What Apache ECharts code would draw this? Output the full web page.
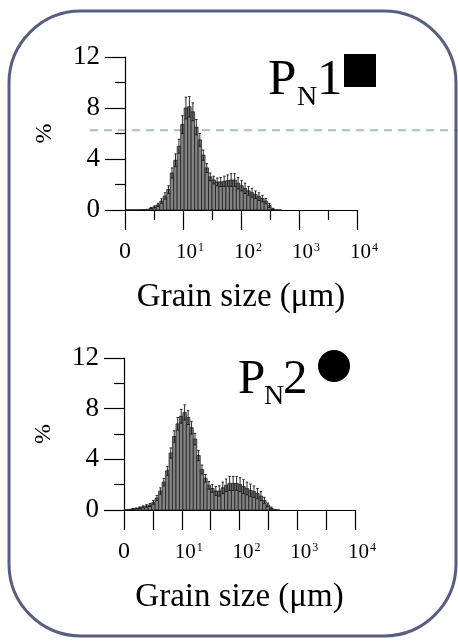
<!DOCTYPE html>
<html>
<head>
<meta charset="utf-8">
<script src="https://cdn.jsdelivr.net/npm/echarts@6/dist/echarts.min.js"></script>
<style>
html,body{margin:0;padding:0;background:#fff;}
#c{width:458px;height:641px;}
</style>
</head>
<body>
<div id="c"></div>
<script>
// ---- data (log10 of grain size in µm, bin centres) ----
const binLog = [0.03,0.09,0.15,0.21,0.27,0.33,0.39,0.45,0.51,0.57,0.63,0.69,0.75,0.81,0.87,0.93,0.99,1.05,1.11,1.17,1.23,1.29,1.35,1.41,1.47,1.53,1.59,1.65,1.71,1.77,1.83,1.89,1.95,2.01,2.07,2.13,2.19,2.25,2.31,2.37,2.43,2.49,2.55,2.61,2.67];
const binWidthLog = 0.06;
const pn1Mean = [0.02,0.02,0.02,0.02,0.03,0.04,0.06,0.15,0.25,0.4,0.7,1.1,1.6,2.9,3.9,5.0,6.7,8.0,8.1,7.7,6.5,5.5,4.3,3.3,2.6,2.35,2.2,2.2,2.25,2.3,2.35,2.35,2.1,1.9,1.7,1.5,1.35,1.2,1.05,0.9,0.7,0.35,0.08,0.02,0.01];
const pn1Sd   = [0,0,0,0,0,0.01,0.02,0.05,0.08,0.12,0.18,0.25,0.3,0.4,0.5,0.55,0.7,0.85,0.8,0.7,0.6,0.5,0.4,0.35,0.3,0.3,0.3,0.35,0.4,0.45,0.5,0.5,0.45,0.4,0.4,0.35,0.35,0.3,0.3,0.25,0.2,0.15,0.05,0,0];
const pn2Mean = [0.03,0.05,0.08,0.12,0.18,0.25,0.32,0.4,0.6,0.95,1.5,2.2,3.1,4.5,5.8,6.8,7.4,7.7,7.3,6.5,5.6,4.3,3.2,2.5,1.95,1.7,1.5,1.5,1.75,1.95,2.1,2.1,2.1,2.0,1.85,1.7,1.55,1.45,1.3,1.1,0.75,0.4,0.15,0.05,0.01];
const pn2Sd   = [0.01,0.02,0.03,0.04,0.06,0.08,0.1,0.12,0.15,0.2,0.25,0.3,0.35,0.4,0.45,0.5,0.55,0.6,0.55,0.5,0.45,0.4,0.35,0.3,0.3,0.3,0.35,0.4,0.45,0.5,0.55,0.55,0.55,0.55,0.55,0.5,0.5,0.45,0.4,0.35,0.25,0.15,0.08,0.02,0];
const xTickBase = ['0','10','10','10','10'];
const xTickSup  = ['','1','2','3','4'];
const yTicks = [0,4,8,12];
const refLineValue = 6.25;
const panelNames = ['1','2'];

const FONT = 'Liberation Serif';
const chart = echarts.init(document.getElementById('c'), null, {renderer:'canvas'});

function xLabel(v){
  if (Math.abs(v - Math.round(v)) > 1e-6) return '';
  const i = Math.round(v);
  if (xTickSup[i] === '') return '{z|' + xTickBase[i] + '}';
  return '{b|' + xTickBase[i] + '}{s|' + xTickSup[i] + '}';
}
const xRich = {
  z:{fontSize:24, fontFamily:FONT, color:'#000', lineHeight:24},
  b:{fontSize:21, fontFamily:FONT, color:'#000', lineHeight:24, padding:[0,0,0,14]},
  s:{fontSize:12, fontFamily:FONT, color:'#000', lineHeight:24, verticalAlign:'top', padding:[2,0,0,1]}
};
function makeX(idx, halfLong){
  return {
    gridIndex: idx, type:'value', min:0, max:4, interval: halfLong ? 0.5 : 1,
    axisLine:{show:true, onZero:false, lineStyle:{color:'#000', width:1.2}},
    axisTick:{show:true, length:20, lineStyle:{color:'#000', width:1.2}},
    minorTick:{show:!halfLong, splitNumber:2, length:10, lineStyle:{color:'#000', width:1.2}},
    splitLine:{show:false},
    axisLabel:{margin:30, formatter:xLabel, rich:xRich},
    name:'Grain size (\u03bcm)', nameLocation:'middle', nameGap:71,
    nameTextStyle:{fontFamily:FONT, fontSize:33, color:'#000'}
  };
}
function makeY(idx){
  return {
    gridIndex: idx, type:'value', min:yTicks[0], max:yTicks[yTicks.length-1], interval:4,
    axisLine:{show:true, lineStyle:{color:'#000', width:1.2}},
    axisTick:{show:true, length:20, lineStyle:{color:'#000', width:1.2}},
    minorTick:{show:true, splitNumber:2, length:10, lineStyle:{color:'#000', width:1.2}},
    splitLine:{show:false},
    axisLabel:{margin:25, fontFamily:FONT, fontSize:27, color:'#000'},
    name:'%', nameLocation:'middle', nameGap:68, nameRotate:90,
    nameTextStyle:{fontFamily:FONT, fontSize:24, color:'#000'}
  };
}
function barRender(params, api){
  const c = api.value(0), v = api.value(1), e = api.value(2);
  const tl = api.coord([c - binWidthLog/2, v]);
  const br = api.coord([c + binWidthLog/2, 0]);
  const w = br[0] - tl[0];
  const mid = (tl[0] + br[0]) / 2;
  const top = api.coord([c, v + e])[1];
  const bot = api.coord([c, Math.max(0, v - e)])[1];
  const cap = w * 0.35;
  const children = [{
    type:'rect', shape:{x:tl[0], y:tl[1], width:w, height:br[1]-tl[1]},
    style:{fill:'#838383', stroke:'#1a1a1a', lineWidth:0.75}
  }];
  if (e > 0.02) {
    children.push({type:'line', shape:{x1:mid, y1:top, x2:mid, y2:bot}, style:{stroke:'#111', lineWidth:0.9}});
    children.push({type:'line', shape:{x1:mid-cap, y1:top, x2:mid+cap, y2:top}, style:{stroke:'#111', lineWidth:0.9}});
    children.push({type:'line', shape:{x1:mid-cap, y1:bot, x2:mid+cap, y2:bot}, style:{stroke:'#111', lineWidth:0.9}});
  }
  return {type:'group', children};
}
function seriesData(m, s){ return binLog.map((c,i)=>[c, m[i], s[i]]); }

const option = {
  animation:false,
  backgroundColor:'#fff',
  grid:[{left:125, top:57, width:232, height:153},{left:124, top:358, width:231, height:152}],
  xAxis:[makeX(0,false), makeX(1,true)],
  yAxis:[makeY(0), makeY(1)],
  series:[
    {type:'custom', xAxisIndex:0, yAxisIndex:0, renderItem:barRender, data:seriesData(pn1Mean,pn1Sd), z:5, clip:false},
    {type:'custom', xAxisIndex:1, yAxisIndex:1, renderItem:barRender, data:seriesData(pn2Mean,pn2Sd), z:5, clip:false}
  ],
  graphic:[
    {id:'frame', type:'rect', shape:{x:9, y:11, width:447, height:625, r:72}, style:{fill:'none', stroke:'#575e80', lineWidth:3}, z:10},
    {id:'p1', type:'text', x:268, y:81, style:{text:'P', fontFamily:FONT, fontSize:51, fill:'#000', align:'left', verticalAlign:'middle'}},
    {id:'n1', type:'text', x:297, y:98, style:{text:'N', fontFamily:FONT, fontSize:28, fill:'#000', align:'left', verticalAlign:'middle'}},
    {id:'d1', type:'text', x:317, y:81, style:{text:panelNames[0], fontFamily:FONT, fontSize:51, fill:'#000', align:'left', verticalAlign:'middle'}},
    {id:'sq', type:'rect', shape:{x:344, y:54, width:32, height:33}, style:{fill:'#000'}},
    {id:'p2', type:'text', x:238, y:380, style:{text:'P', fontFamily:FONT, fontSize:49, fill:'#000', align:'left', verticalAlign:'middle'}},
    {id:'n2', type:'text', x:264, y:397, style:{text:'N', fontFamily:FONT, fontSize:28, fill:'#000', align:'left', verticalAlign:'middle'}},
    {id:'d2', type:'text', x:283, y:380, style:{text:panelNames[1], fontFamily:FONT, fontSize:49, fill:'#000', align:'left', verticalAlign:'middle'}},
    {id:'ci', type:'circle', shape:{cx:334, cy:366, r:16}, style:{fill:'#000'}}
  ]
};
chart.setOption(option);
const refY = chart.convertToPixel({gridIndex:0}, [0, refLineValue])[1];
chart.setOption({graphic:[
  {id:'ref', type:'line', shape:{x1:90, y1:refY, x2:458, y2:refY}, style:{stroke:'#a8bccf', lineWidth:2, lineDash:[8,6]}, z:-1}
]});
</script>
</body>
</html>
